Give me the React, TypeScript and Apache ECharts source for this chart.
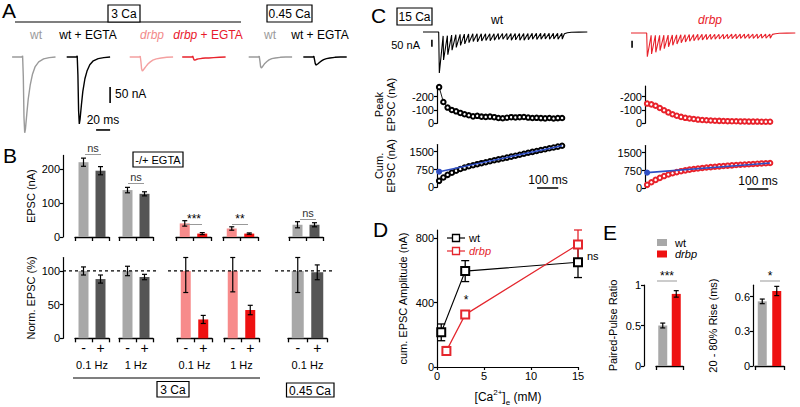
import React, { useEffect, useRef } from "react";
import * as echarts from "echarts";

const FONT = "'Liberation Sans', Arial, Helvetica, sans-serif";

// ===== Panel A — example EPSC traces (time in ms, current in nA)
const traceTimeMs = [0, 14, 15, 16, 17, 18, 19, 21, 23, 26, 29, 33, 38, 45, 53, 62];
const traceWt3Ca = [0, 0, 4, -60, -190, -237, -226, -178, -132, -86, -55, -30, -15, -6, -2, 0];
const traceWtEgta3Ca = [0, 0, 4, -55, -168, -209, -196, -150, -108, -68, -44, -24, -12, -5, -2, 0];
const traceDrbp3Ca = [0, 0, 3, -14, -37, -44, -42, -36, -30, -22, -16, -10, -6, -3, -1, 0];
const traceDrbpEgta3Ca = [0, 0, 3, -4, -9, -10, -9, -7, -6, -5, -4, -3, -3, -2, -1, 0];
const traceWt045Ca = [0, 0, 3, -12, -30, -34, -32, -26, -20, -14, -9, -5, -3, -1, 0, 0];
const traceWtEgta045Ca = [0, 0, 3, -8, -20, -25, -24, -21, -17, -12, -8, -5, -3, -1, 0, 0];
const traceLabelsA = ["wt", "wt + EGTA", "drbp", "drbp + EGTA", "wt", "wt + EGTA"];
const scaleBarNa = 50;
const scaleBarMs = 20;

// ===== Panel B
const bFreqLabels = ["0.1 Hz", "1 Hz", "0.1 Hz", "1 Hz", "0.1 Hz"];
const bCats = ["-", "+"];
const epscNoEgta = [220, 138, 40, 25, 36];
const epscNoEgtaSem = [12, 8, 8, 5, 9];
const epscEgta = [195, 127, 10, 10, 36];
const epscEgtaSem = [12, 6, 3, 2, 6];
const normNoEgta = [100, 100, 100, 100, 100];
const normNoEgtaSem = [6, 7, 32, 31, 32];
const normEgta = [88, 91, 28, 42, 98];
const normEgtaSem = [6, 4, 6, 7, 11];
const bSigLabels = ["ns", "ns", "***", "**", "ns"];

// ===== Panel C — 50 Hz train
const trainIsiMs = 20;
const wtTracePeak = [-293, -200, -162, -130, -110, -96, -85, -76, -68, -70, -64, -61, -62, -58, -54, -52, -55, -58, -56, -58, -58, -55, -52, -53, -51, -50, -52, -49, -51, -51];
const wtTraceResidual = [0, -28, -26, -22, -19, -17, -15, -14, -13, -13, -12, -12, -12, -12, -11, -11, -11, -11, -11, -11, -11, -11, -10, -10, -10, -10, -10, -10, -10, -10];
const drbpTracePeak = [-169, -150, -138, -125, -112, -98, -88, -78, -70, -64, -59, -55, -52, -49, -47, -45, -44, -43, -42, -41, -40, -40, -39, -39, -38, -38, -38, -37, -37, -37];
const drbpTraceResidual = [0, -16, -17, -17, -16, -15, -14, -13, -12, -12, -11, -11, -10, -10, -10, -9, -9, -9, -9, -9, -8, -8, -8, -8, -8, -8, -8, -8, -8, -8];
const traceTailMs = [592, 606, 625, 660, 700];
const wtTraceTail = [-12, -5, -2, -1, 0];
const drbpTraceTail = [-10, -5, -2, -1, 0];
const wtPeakEpsc = [-272, -160, -118, -100, -90, -78, -68, -60, -52, -56, -50, -48, -50, -46, -40, -38, -42, -46, -44, -46, -47, -43, -40, -41, -39, -37, -40, -36, -39, -40];
const drbpPeakEpsc = [-148, -142, -132, -115, -98, -82, -68, -57, -48, -41, -36, -32, -28, -25, -23, -21, -19, -18, -17, -16, -15, -15, -14, -14, -13, -13, -13, -12, -12, -12];
const wtCumEpsc = [272, 415, 525, 618, 700, 770, 832, 885, 930, 975, 1017, 1058, 1100, 1140, 1178, 1215, 1252, 1292, 1332, 1373, 1415, 1455, 1493, 1532, 1570, 1606, 1644, 1680, 1715, 1752];
const drbpCumEpsc = [145, 255, 355, 440, 515, 580, 635, 682, 722, 756, 786, 812, 835, 856, 875, 893, 910, 925, 940, 954, 967, 980, 992, 1004, 1015, 1026, 1037, 1048, 1058, 1068];
const wtCumFit = [[0, 658], [580, 1752]];
const drbpCumFit = [[0, 660], [580, 1068]];
const cScaleMs = 100;

// ===== Panel D
const caWt = [0.45, 3, 15];
const cumAmpWt = [215, 595, 650];
const cumAmpWtSem = [52, 65, 95];
const caDrbp = [1, 3, 15];
const cumAmpDrbp = [100, 325, 760];
const cumAmpDrbpSem = [27, 15, 90];
const caTicks = [0, 5, 10, 15];
const cumAmpTicks = [0, 400, 800];

// ===== Panel E
const genotypes = ["wt", "drbp"];
const pprValues = [0.5, 0.89];
const pprSem = [0.03, 0.04];
const riseValues = [0.56, 0.65];
const riseSem = [0.02, 0.04];

// ---------- styles
const GRAY = "#a8a8a8";
const DARK = "#555555";
const PINK = "#f78b8b";
const RED = "#ee1111";
const TRACE_GRAY = "#9a9a9a";
const TRACE_PINK = "#f4a0a0";
const TRACE_RED = "#e8222b";
const BLUE = "#2f4fc4";

function buildOption() {
  const grids: any[] = [];
  const xAxes: any[] = [];
  const yAxes: any[] = [];
  const series: any[] = [];
  const els: any[] = [];

  const addGrid = (rect: any, x: any, y: any) => {
    const gi = grids.length;
    grids.push({ ...rect, outerBoundsMode: "none", containLabel: false, show: false });
    xAxes.push({ ...x, gridIndex: gi });
    yAxes.push({ ...y, gridIndex: gi });
    return gi;
  };
  const hidden = (min: number, max: number, extra: any = {}) => ({ type: "value", show: false, min, max, ...extra });
  const lab = { color: "#000", fontSize: 11, fontFamily: FONT, margin: 3, formatter: (v: number) => String(v) };
  const nameStyle = { color: "#000", fontSize: 11, fontFamily: FONT, lineHeight: 12 };
  const visValue = (min: number, max: number, vals: number[], extra: any = {}) => ({
    type: "value",
    min,
    max,
    axisLine: { show: true, onZero: false, lineStyle: { color: "#000", width: 1.2 } },
    axisTick: { show: true, length: 3, customValues: vals, lineStyle: { color: "#000", width: 1.2 } },
    axisLabel: { ...lab, customValues: vals },
    splitLine: { show: false },
    nameLocation: "middle",
    nameTextStyle: nameStyle,
    nameMoveOverlap: false,
    ...extra,
  });
  const catX = (data: string[], showLabels: boolean, name?: string) => ({
    type: "category",
    data,
    boundaryGap: true,
    axisLine: { show: true, onZero: false, lineStyle: { color: "#000", width: 1.3 } },
    axisTick: { show: true, length: 4, lineStyle: { color: "#000", width: 1.3 } },
    axisLabel: { show: showLabels, color: "#000", fontSize: 14, fontFamily: FONT, margin: 3 },
    splitLine: { show: false },
    name: name || "",
    nameLocation: "middle",
    nameGap: 21,
    nameTextStyle: { color: "#000", fontSize: 11, fontFamily: FONT },
    nameMoveOverlap: false,
  });
  const errSeries = (gi: number, data: number[][], capHalf: number, color = "#000", width = 1.2) => ({
    type: "custom",
    xAxisIndex: gi,
    yAxisIndex: gi,
    data,
    z: 6,
    clip: false,
    silent: true,
    renderItem: (_p: any, api: any) => {
      const x = api.value(0);
      const a = api.coord([x, api.value(1)]);
      const b = api.coord([x, api.value(2)]);
      const style = { stroke: color, lineWidth: width };
      return {
        type: "group",
        children: [
          { type: "line", shape: { x1: a[0], y1: a[1], x2: b[0], y2: b[1] }, style },
          { type: "line", shape: { x1: a[0] - capHalf, y1: a[1], x2: a[0] + capHalf, y2: a[1] }, style },
          { type: "line", shape: { x1: b[0] - capHalf, y1: b[1], x2: b[0] + capHalf, y2: b[1] }, style },
        ],
      };
    },
  });
  const lineS = (gi: number, data: any[], color: string, width = 1.3, extra: any = {}) => ({
    type: "line",
    xAxisIndex: gi,
    yAxisIndex: gi,
    data,
    symbol: "none",
    showSymbol: false,
    lineStyle: { color, width },
    itemStyle: { color },
    clip: false,
    silent: true,
    ...extra,
  });

  const T = (x: number, y: number, text: string, o: any = {}) => {
    const style: any = {
      text,
      fill: o.color || "#000",
      fontSize: o.size || 11,
      fontFamily: FONT,
      fontStyle: o.italic ? "italic" : "normal",
      fontWeight: o.bold ? "bold" : "normal",
      textAlign: o.align || "center",
      textVerticalAlign: "middle",
      align: o.align || "center",
      verticalAlign: "middle",
    };
    if (o.rich) style.rich = o.rich;
    if (o.lineHeight) style.lineHeight = o.lineHeight;
    return { type: "text", x, y, silent: true, z: 20, style };
  };
  const L = (x1: number, y1: number, x2: number, y2: number, color = "#000", w = 1.2, dash?: number[]) => ({
    type: "line",
    silent: true,
    z: 20,
    shape: { x1, y1, x2, y2 },
    style: { stroke: color, lineWidth: w, lineDash: dash },
  });
  const R = (x: number, y: number, w: number, h: number, fill: string, stroke: string | null, lw = 1) => ({
    type: "rect",
    silent: true,
    z: 20,
    shape: { x, y, width: w, height: h },
    style: { fill, stroke: stroke || "none", lineWidth: lw },
  });

  // ================= Panel A =================
  const gA = addGrid({ left: 10, top: 44.2, width: 340, height: 96 }, hidden(0, 485.7), hidden(-260, 40));
  const tracesA = [traceWt3Ca, traceWtEgta3Ca, traceDrbp3Ca, traceDrbpEgta3Ca, traceWt045Ca, traceWtEgta045Ca];
  const traceStartA = [3, 81, 171, 246, 341, 419];
  const traceColorA = [TRACE_GRAY, "#000", TRACE_PINK, TRACE_RED, TRACE_GRAY, "#000"];
  tracesA.forEach((tr, k) => {
    series.push(lineS(gA, traceTimeMs.map((t, i) => [traceStartA[k] + t, tr[i]]), traceColorA[k], 1.4));
  });
  series.push(lineS(gA, [[143, -94], [143, -94 - scaleBarNa]], "#000", 1.6));
  series.push(lineS(gA, [[143 - scaleBarMs, -228], [143, -228]], "#000", 1.6));

  els.push(T(2, 10, "A", { size: 21, align: "left" }));
  els.push(L(15, 22, 241, 22, "#000", 1.2));
  els.push(R(108, 5, 32, 17, "#fff", "#000", 1.2));
  els.push(T(124, 13.5, "3 Ca", { size: 12 }));
  els.push(R(267, 5, 45, 17, "#fff", "#000", 1.2));
  els.push(T(289.5, 13.5, "0.45 Ca", { size: 12 }));
  const labelXA = [36, 88, 152, 208, 270, 320];
  els.push(T(labelXA[0], 35, traceLabelsA[0], { size: 12, color: TRACE_GRAY }));
  els.push(T(labelXA[1], 35, traceLabelsA[1], { size: 12 }));
  els.push(T(labelXA[2], 35, traceLabelsA[2], { size: 12, italic: true, color: "#f28a8a" }));
  els.push(
    T(labelXA[3], 35, "{i|drbp} + EGTA", {
      size: 12,
      color: "#e8192c",
      rich: { i: { fontStyle: "italic", fill: "#e8192c", color: "#e8192c", fontSize: 12, fontFamily: FONT } },
    })
  );
  els.push(T(labelXA[4], 35, traceLabelsA[4], { size: 12, color: TRACE_GRAY }));
  els.push(T(labelXA[5], 35, traceLabelsA[5], { size: 12 }));
  els.push(T(115, 94, `${scaleBarNa} nA`, { size: 12, align: "left" }));
  els.push(T(103, 120, `${scaleBarMs} ms`, { size: 12 }));

  // ================= Panel B =================
  const topLeft = [75, 119, 176, 223, 289];
  const topWidth = [34, 34, 35, 35, 34];
  const botLeft = [75, 119, 177, 224, 288];
  const botWidth = [34, 34, 35, 35, 39];
  const minusColor = [GRAY, GRAY, PINK, PINK, GRAY];
  const plusColor = [DARK, DARK, RED, RED, DARK];
  for (let k = 0; k < 5; k++) {
    const yTop =
      k === 0
        ? visValue(0, 240, [0, 100, 200], { offset: 12, name: "EPSC (nA)", nameGap: 26 })
        : hidden(0, 240);
    const gt = addGrid({ left: topLeft[k], top: 155.4, width: topWidth[k], height: 81.6 }, catX(bCats, false), yTop);
    series.push({
      type: "bar",
      xAxisIndex: gt,
      yAxisIndex: gt,
      barWidth: 10,
      silent: true,
      data: [
        { value: epscNoEgta[k], itemStyle: { color: minusColor[k] } },
        { value: epscEgta[k], itemStyle: { color: plusColor[k] } },
      ],
    });
    series.push(
      errSeries(
        gt,
        [
          [0, epscNoEgta[k] - epscNoEgtaSem[k], epscNoEgta[k] + epscNoEgtaSem[k]],
          [1, epscEgta[k] - epscEgtaSem[k], epscEgta[k] + epscEgtaSem[k]],
        ],
        2.5
      )
    );

    const yBot =
      k === 0
        ? visValue(0, 120, [0, 50, 100], { offset: 12, name: "Norm. EPSC (%)", nameGap: 26 })
        : hidden(0, 120);
    const gb = addGrid(
      { left: botLeft[k], top: 257.5, width: botWidth[k], height: 80.8 },
      catX(bCats, true, bFreqLabels[k]),
      yBot
    );
    series.push({
      type: "bar",
      xAxisIndex: gb,
      yAxisIndex: gb,
      barWidth: k === 4 ? 12 : 10,
      silent: true,
      data: [
        { value: normNoEgta[k], itemStyle: { color: minusColor[k] } },
        { value: normEgta[k], itemStyle: { color: plusColor[k] } },
      ],
    });
    series.push(
      errSeries(
        gb,
        [
          [0, normNoEgta[k] - normNoEgtaSem[k], Math.min(normNoEgta[k] + normNoEgtaSem[k], 120)],
          [1, normEgta[k] - normEgtaSem[k], Math.min(normEgta[k] + normEgtaSem[k], 120)],
        ],
        2.5
      )
    );
  }
  const gDash = addGrid({ left: 63, top: 257.5, width: 272, height: 80.8 }, hidden(0, 272), hidden(0, 120));
  const dashSpans = [[0, 94], [105, 199], [212, 272]];
  dashSpans.forEach((s) => {
    series.push(lineS(gDash, [[s[0], 100], [s[1], 100]], "#000", 1.2, { lineStyle: { color: "#000", width: 1.2, type: [3, 3] }, z: 8 }));
  });

  els.push(T(3, 155, "B", { size: 21, align: "left" }));
  els.push(R(133, 152, 50, 15, "#fff", "#000", 1.2));
  els.push(T(158, 159.5, "-/+ EGTA", { size: 11 }));
  const sigX = [93, 136, 194, 240, 308];
  const sigY = [148, 177, 218, 218, 213];
  bSigLabels.forEach((s, k) => {
    const star = s.includes("*");
    els.push(T(sigX[k], sigY[k] + (star ? 1 : 0), s, { size: star ? 12 : 11, color: star ? "#000" : "#333" }));
    els.push(L(sigX[k] - 8, sigY[k] + 6.5, sigX[k] + 8, sigY[k] + 6.5, "#999", 1));
  });
  els.push(L(73, 378, 260, 378, "#000", 1.2));
  els.push(R(157, 381.5, 32, 15.5, "#fff", "#000", 1.2));
  els.push(T(173, 389.5, "3 Ca", { size: 12 }));
  els.push(R(286.5, 383, 47.5, 14, "#fff", "#000", 1.2));
  els.push(T(310, 390.5, "0.45 Ca", { size: 12 }));

  // ================= Panel C =================
  const buildTrain = (peaks: number[], residual: number[], tail: number[]) => {
    const pts: number[][] = [[-75, 0], [-1, 0]];
    peaks.forEach((p, i) => {
      const t = i * trainIsiMs;
      pts.push([t, residual[i]]);
      pts.push([t + 2, p]);
    });
    tail.forEach((v, i) => pts.push([traceTailMs[i], v]));
    return pts;
  };
  const cCfg = [
    { trLeft: 423, trTop: 25, left: 437, cumTop: 144.6, color: "#000", peaks: wtTracePeak, res: wtTraceResidual, tail: wtTraceTail, pk: wtPeakEpsc, cum: wtCumEpsc, fit: wtCumFit, names: true, barT: -33, sbT: 462 },
    { trLeft: 631, trTop: 26, left: 645, cumTop: 145.6, color: TRACE_RED, peaks: drbpTracePeak, res: drbpTraceResidual, tail: drbpTraceTail, pk: drbpPeakEpsc, cum: drbpCumEpsc, fit: drbpCumFit, names: false, barT: -70, sbT: 472 },
  ];
  cCfg.forEach((c) => {
    const gt = addGrid({ left: c.trLeft, top: c.trTop, width: 164.3, height: 51.8 }, hidden(-75, 700), hidden(-320, 50));
    series.push(lineS(gt, buildTrain(c.peaks, c.res, c.tail), c.color, 1.1));
    series.push(lineS(gt, [[c.barT, -56], [c.barT, -56 - scaleBarNa]], "#000", 1.6));

    const gp = addGrid(
      { left: c.left, top: 86, width: 127.2, height: 37.3 },
      hidden(-10, 590),
      visValue(-280, 0, [-200, -100, 0], { inverse: true, name: c.names ? "Peak\nEPSC (nA)" : "", nameGap: 40 })
    );
    series.push(
      lineS(gp, c.pk.map((v, i) => [i * trainIsiMs, v]), c.color, 0.9, {
        symbol: "emptyCircle",
        showSymbol: true,
        symbolSize: 4.5,
        itemStyle: { color: c.color, borderWidth: 1 },
      })
    );

    const gc = addGrid(
      { left: c.left, top: c.cumTop, width: 127.2, height: 42.7 },
      hidden(-10, 590),
      visValue(0, 1800, [0, 750, 1500], { name: c.names ? "Cum.\nEPSC (nA)" : "", nameGap: 40 })
    );
    series.push(
      lineS(gc, c.cum.map((v, i) => [i * trainIsiMs, v]), c.color, 0, {
        symbol: "emptyCircle",
        showSymbol: true,
        symbolSize: 4.5,
        lineStyle: { width: 0, opacity: 0 },
        itemStyle: { color: c.color, borderWidth: 1 },
        z: 3,
      })
    );
    series.push(
      lineS(gc, [{ value: c.fit[0], symbol: "circle", symbolSize: 6 }, { value: c.fit[1], symbol: "none" }], BLUE, 1.6, {
        symbol: "circle",
        showSymbol: true,
        itemStyle: { color: BLUE },
        z: 4,
      })
    );
    series.push(lineS(gc, [[c.sbT, -30], [c.sbT + cScaleMs, -30]], "#000", 1.6));
  });
  els.push(T(371, 15, "C", { size: 21, align: "left" }));
  els.push(R(397, 8, 35, 17, "#fff", "#000", 1.2));
  els.push(T(414.5, 16.5, "15 Ca", { size: 12 }));
  els.push(T(497, 20, "wt", { size: 12 }));
  els.push(T(710, 20, "drbp", { size: 12, italic: true, color: TRACE_RED }));
  els.push(T(420, 45, `${scaleBarNa} nA`, { size: 11, align: "right" }));
  els.push(T(548, 180, `${cScaleMs} ms`, { size: 12 }));
  els.push(T(758, 181, `${cScaleMs} ms`, { size: 12 }));

  // ================= Panel D =================
  const gD = addGrid(
    { left: 437, top: 230, width: 141, height: 137 },
    visValue(0, 15, caTicks, {}),
    visValue(0, 850, cumAmpTicks, { name: "cum. EPSC Amplitude (nA)", nameGap: 28 })
  );
  const DRED = "#e4262d";
  series.push(errSeries(gD, caWt.map((x, i) => [x, cumAmpWt[i] - cumAmpWtSem[i], cumAmpWt[i] + cumAmpWtSem[i]]), 4, "#000", 1.3));
  series.push(errSeries(gD, caDrbp.map((x, i) => [x, cumAmpDrbp[i] - cumAmpDrbpSem[i], cumAmpDrbp[i] + cumAmpDrbpSem[i]]), 4, DRED, 1.3));
  series.push(
    lineS(gD, caWt.map((x, i) => [x, cumAmpWt[i]]), "#000", 1.2, {
      symbol: "emptyRect",
      showSymbol: true,
      symbolSize: 8,
      itemStyle: { color: "#000", borderWidth: 1.5 },
      z: 7,
    })
  );
  series.push(
    lineS(gD, caDrbp.map((x, i) => [x, cumAmpDrbp[i]]), DRED, 1.2, {
      symbol: "emptyRect",
      showSymbol: true,
      symbolSize: 8,
      itemStyle: { color: DRED, borderWidth: 1.5 },
      z: 7,
    })
  );
  els.push(T(373, 229, "D", { size: 21, align: "left" }));
  els.push(L(447, 238, 465, 238, "#000", 1.2));
  els.push(R(452.5, 234.5, 7, 7, "#fff", "#000", 1.3));
  els.push(T(469, 238, "wt", { size: 11, align: "left" }));
  els.push(L(447, 251, 465, 251, DRED, 1.2));
  els.push(R(452.5, 247.5, 7, 7, "#fff", DRED, 1.3));
  els.push(T(469, 251, "drbp", { size: 11, align: "left", italic: true, color: DRED }));
  els.push(T(466, 300, "*", { size: 12 }));
  els.push(T(587, 256, "ns", { size: 11, align: "left" }));
  els.push(
    T(508, 397, "[Ca{sup|2+}]{sub|e} (mM)", {
      size: 12,
      lineHeight: 18,
      rich: {
        sup: { fontSize: 8, verticalAlign: "top", fill: "#000", fontFamily: FONT, lineHeight: 18 },
        sub: { fontSize: 8, verticalAlign: "bottom", fill: "#000", fontFamily: FONT, lineHeight: 18 },
      },
    })
  );

  // ================= Panel E =================
  const gE1 = addGrid(
    { left: 656, top: 285, width: 27, height: 81 },
    catX(genotypes, false),
    visValue(0, 1, [0, 0.5, 1], { offset: 12, name: "Paired-Pulse Ratio", nameGap: 25 })
  );
  series.push({
    type: "bar",
    xAxisIndex: gE1,
    yAxisIndex: gE1,
    barWidth: 9,
    silent: true,
    data: [
      { value: pprValues[0], itemStyle: { color: GRAY } },
      { value: pprValues[1], itemStyle: { color: RED } },
    ],
  });
  series.push(errSeries(gE1, pprValues.map((v, i) => [i, v - pprSem[i], v + pprSem[i]]), 2.5));
  const gE2 = addGrid(
    { left: 755, top: 285.2, width: 29, height: 80.8 },
    catX(genotypes, false),
    visValue(0, 0.7, [0, 0.3, 0.6], { offset: 2, name: "20 - 80% Rise (ms)", nameGap: 34 })
  );
  series.push({
    type: "bar",
    xAxisIndex: gE2,
    yAxisIndex: gE2,
    barWidth: 9,
    silent: true,
    data: [
      { value: riseValues[0], itemStyle: { color: GRAY } },
      { value: riseValues[1], itemStyle: { color: RED } },
    ],
  });
  series.push(errSeries(gE2, riseValues.map((v, i) => [i, v - riseSem[i], v + riseSem[i]]), 2.5));
  els.push(T(603, 232, "E", { size: 21, align: "left" }));
  els.push(R(657, 239, 10, 7, GRAY, null));
  els.push(T(675, 242.5, "wt", { size: 11, align: "left" }));
  els.push(R(657, 250.5, 10, 7, RED, null));
  els.push(T(675, 254, "drbp", { size: 11, align: "left", italic: true }));
  els.push(T(667, 276, "***", { size: 12 }));
  els.push(L(657, 281, 677, 281, "#999", 1));
  els.push(T(770, 276, "*", { size: 12 }));
  els.push(L(760, 281, 780, 281, "#999", 1));

  return {
    animation: false,
    backgroundColor: "#fff",
    textStyle: { fontFamily: FONT },
    grid: grids,
    xAxis: xAxes,
    yAxis: yAxes,
    series,
    graphic: { elements: els },
  };
}

export default function App() {
  const ref = useRef<HTMLDivElement>(null);
  useEffect(() => {
    if (!ref.current) return;
    const chart = echarts.init(ref.current, null, { renderer: "svg" });
    chart.setOption(buildOption() as any);
    return () => chart.dispose();
  }, []);
  return (
    <div
      ref={ref}
      style={{ position: "absolute", left: 0, top: 0, width: 800, height: 407, background: "#fff" }}
    />
  );
}
